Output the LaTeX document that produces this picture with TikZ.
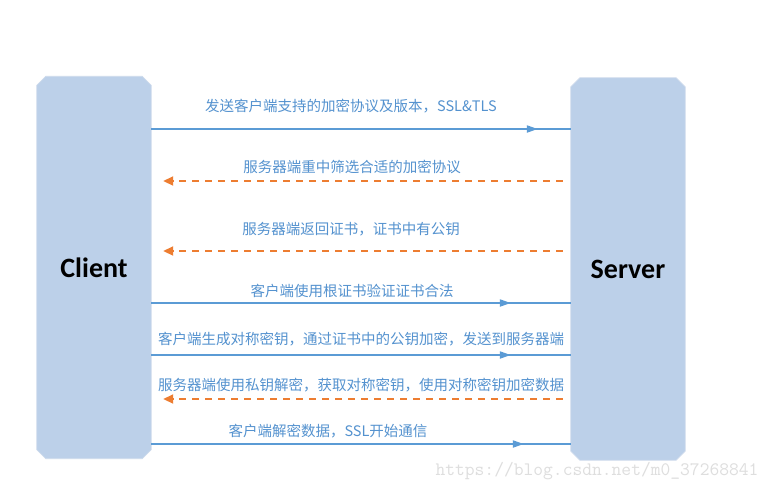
\documentclass[tikz,border=0pt]{standalone}
\usepackage{fontspec}
\newfontfamily\cjkfont{Noto Sans CJK SC}
\newfontfamily\carlitofont{Carlito}
\usetikzlibrary{arrows.meta,decorations.markings}
\definecolor{boxfill}{RGB}{188,208,233}
\definecolor{boxedge}{RGB}{205,218,236}
\definecolor{lineblue}{RGB}{91,155,213}
\definecolor{lineorange}{RGB}{237,125,49}
\definecolor{textblue}{RGB}{84,146,207}
\definecolor{wmgray}{RGB}{222,222,222}
\tikzset{
  party/.style={rectangle, minimum width=114pt, minimum height=382pt, inner sep=0pt,
    font=\carlitofont\bfseries\fontsize{28}{32}\selectfont},
  partyfill/.style={fill=boxfill, draw=boxedge, line width=0.8pt},
  msg/.style={lineblue, line width=2pt, postaction={decorate},
    decoration={markings, mark=at position #1 with {\arrow{Triangle[length=11pt,width=7pt]}}}},
  reply/.style={lineorange, line width=1.8pt, dash pattern=on 7pt off 6pt,
    -{Triangle[length=10pt,width=9pt]}},
  lbl/.style={text=textblue, font=\cjkfont\fontsize{14.5}{16}\selectfont, inner sep=1pt}
}
\newcommand{\chamferbox}[1]{%
  \filldraw[partyfill] ([xshift=9pt]#1.north west) -- ([xshift=-9pt]#1.north east)
    -- ([yshift=-9pt]#1.north east) -- ([yshift=9pt]#1.south east)
    -- ([xshift=-9pt]#1.south east) -- ([xshift=9pt]#1.south west)
    -- ([yshift=9pt]#1.south west) -- ([yshift=-9pt]#1.north west) -- cycle;}
\begin{document}
\begin{tikzpicture}[x=1pt,y=-1pt]
\fill[white] (0,0) rectangle (774,491);
\useasboundingbox (0,0) rectangle (774,491);
\node[party] (client) at (94,267.5) {};
\node[party] (server) at (628,269) {};
\chamferbox{client}
\chamferbox{server}
\node[party] (clienttext) at (client.center) {Client};
\node[party] (servertext) at (server.center) {Server};

\draw[msg=-33pt] (client.east |- 0,129) -- (server.west |- 0,129);
\node[lbl] (l1) at (351,106) {发送客户端支持的加密协议及版本，SSL\&TLS};

\draw[reply] ([xshift=-8pt]server.west |- 0,181) -- ([xshift=12pt]client.east |- 0,181);
\node[lbl] (l2) at (352,167) {服务器端重中筛选合适的加密协议};

\draw[reply] ([xshift=-8pt]server.west |- 0,251) -- ([xshift=12pt]client.east |- 0,251);
\node[lbl] (l3) at (351,229) {服务器端返回证书，证书中有公钥};

\draw[msg=-60pt] (client.east |- 0,303) -- (server.west |- 0,303);
\node[lbl] (l4) at (352,291) {客户端使用根证书验证证书合法};

\draw[msg=-60pt] (client.east |- 0,355) -- (server.west |- 0,355);
\node[lbl] (l5) at (361,339) {客户端生成对称密钥，通过证书中的公钥加密，发送到服务器端};

\draw[reply] ([xshift=-8pt]server.west |- 0,399) -- ([xshift=12pt]client.east |- 0,399);
\node[lbl] (l6) at (361,385) {服务器端使用私钥解密，获取对称密钥，使用对称密钥加密数据};

\draw[msg=-47pt] (client.east |- 0,444) -- (server.west |- 0,444);
\node[lbl] (l7) at (328,431) {客户端解密数据，SSL开始通信};

\node[text=wmgray, font=\ttfamily\fontsize{19}{20}\selectfont, inner sep=0pt] (wm) at (597,471) {https://blog.csdn.net/m0\_37268841};
\end{tikzpicture}
\end{document}
